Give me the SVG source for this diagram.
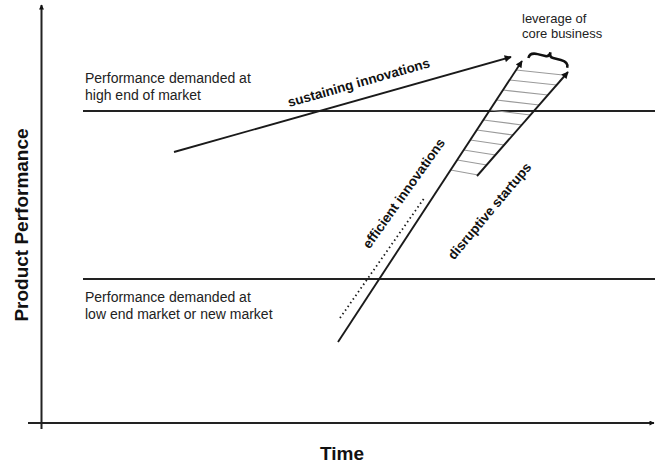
<svg xmlns="http://www.w3.org/2000/svg" width="655" height="466" viewBox="0 0 655 466">
<defs>
<style>
.ax{stroke:#222;stroke-width:2;fill:none}
.ln{stroke:#1a1a1a;stroke-width:1.9;fill:none}
.hl{stroke:#222;stroke-width:1.8;fill:none}
.ht{stroke:#9a9a9a;stroke-width:1.2;fill:none}
.dot{stroke:#1a1a1a;stroke-width:1.8;fill:none;stroke-dasharray:1.5 3}
.t{font-family:"Liberation Sans",Arial,sans-serif;font-size:14px;fill:#222}
.s{font-family:"Liberation Sans",Arial,sans-serif;font-size:13px;fill:#222}
.b{font-family:"Liberation Sans",Arial,sans-serif;font-size:13.5px;font-weight:bold;fill:#111}
.big{font-family:"Liberation Sans",Arial,sans-serif;font-size:19px;font-weight:bold;fill:#111}
</style>
<marker id="ah" viewBox="0 0 10 10" refX="9" refY="5" markerWidth="9" markerHeight="7" markerUnits="userSpaceOnUse" orient="auto">
<path d="M0,0 L10,5 L0,10 z" fill="#111"/>
</marker>
<marker id="axh" viewBox="0 0 10 10" refX="9" refY="5" markerWidth="6" markerHeight="5" markerUnits="userSpaceOnUse" orient="auto">
<path d="M0,0 L10,5 L0,10 z" fill="#111"/>
</marker>
</defs>
<rect width="655" height="466" fill="#fff"/>

<g id="axes">
<line class="ax" x1="41.5" y1="429" x2="41.5" y2="5" marker-end="url(#axh)"/>
<line class="ax" x1="28" y1="423" x2="654" y2="423" marker-end="url(#axh)"/>
<text class="big" x="342" y="460" text-anchor="middle">Time</text>
<text class="big" transform="translate(28,225) rotate(-90)" text-anchor="middle">Product Performance</text>
</g>

<g id="high-end">
<line class="hl" x1="83" y1="111" x2="655" y2="111"/>
<text class="t" x="85" y="83">Performance demanded at</text>
<text class="t" x="85" y="100">high end of market</text>
</g>

<g id="low-end">
<line class="hl" x1="83" y1="279" x2="655" y2="279"/>
<text class="t" x="85" y="302">Performance demanded at</text>
<text class="t" x="85" y="319">low end market or new market</text>
</g>

<g id="leverage">
<text class="s" x="522" y="23">leverage of</text>
<text class="s" x="522" y="38">core business</text>
<path d="M-20,5 Q-20,-1 -12,-1 L-4,-1 Q0,-1 0,-6 Q0,-1 4,-1 L12,-1 Q20,-1 20,5" transform="translate(549,58) rotate(14)" fill="none" stroke="#111" stroke-width="2.5"/>
</g>

<g id="hatch">
<line class="ht" x1="516.1" y1="70" x2="563" y2="75"/>
<line class="ht" x1="509.6" y1="80" x2="556.7" y2="85"/>
<line class="ht" x1="503" y1="90" x2="547.9" y2="95"/>
<line class="ht" x1="496.5" y1="100" x2="539.2" y2="105"/>
<line class="ht" x1="489.9" y1="110" x2="530.4" y2="115"/>
<line class="ht" x1="483.4" y1="120" x2="521.7" y2="125"/>
<line class="ht" x1="476.8" y1="130" x2="513" y2="135"/>
<line class="ht" x1="470.3" y1="140" x2="504.2" y2="145"/>
<line class="ht" x1="463.7" y1="150" x2="495.5" y2="155"/>
<line class="ht" x1="457.2" y1="160" x2="486.7" y2="165"/>
<line class="ht" x1="450.6" y1="170" x2="478" y2="175"/>
</g>

<g id="connectors">
<line class="ln" x1="174" y1="152" x2="511" y2="57" marker-end="url(#ah)"/>
<line class="ln" x1="338" y1="342" x2="522" y2="61" marker-end="url(#ah)"/>
<line class="ln" x1="477" y1="176" x2="568" y2="72" marker-end="url(#ah)"/>
<line class="dot" x1="340" y1="318" x2="425" y2="197"/>
</g>

<g id="labels">
<text class="b" transform="translate(360,87) rotate(-15.8)" text-anchor="middle">sustaining innovations</text>
<text class="b" transform="translate(407.5,196) rotate(-54.5)" text-anchor="middle">efficient innovations</text>
<text class="b" transform="translate(493,214) rotate(-50)" text-anchor="middle">disruptive startups</text>
</g>
</svg>
